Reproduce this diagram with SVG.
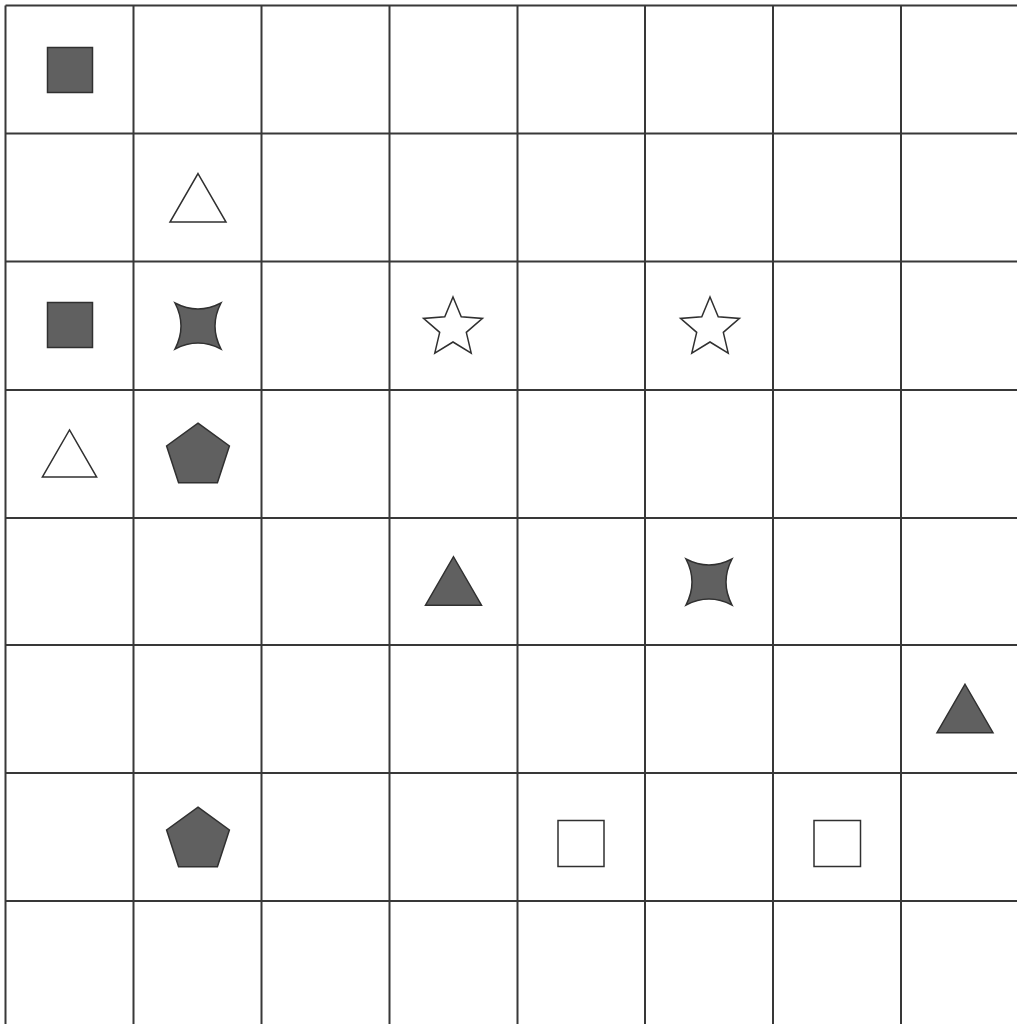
<svg xmlns="http://www.w3.org/2000/svg" xmlns:xlink="http://www.w3.org/1999/xlink" width="1017" height="1024" viewBox="0 0 1017 1024">
<style>
.grid line{stroke:#383838;stroke-width:2}
.f{fill:#606060;stroke:#303030;stroke-width:1.5;stroke-linejoin:miter}
.h{fill:#ffffff;stroke:#303030;stroke-width:1.5}
</style>
<defs>
<polygon id="tri" points="0,-24.25 28,24.25 -28,24.25"/>
<polygon id="pent" points="0,-29.85 31.4,-7.05 19.4,29.85 -19.4,29.85 -31.4,-7.05"/>
<polygon id="star" points="0,-28 8.23,-8.33 29.48,-6.58 13.31,7.33 18.22,28.08 0,17 -18.22,28.08 -13.31,7.33 -29.48,-6.58 -8.23,-8.33"/>
<path id="star4" d="M-23,-23 Q0,-11 23,-23 Q11,0 23,23 Q0,11 -23,23 Q-11,0 -23,-23 Z"/>
</defs>
<rect width="1017" height="1024" fill="#ffffff"/>
<g class="grid">
<line x1="5.5" y1="5.5" x2="5.5" y2="1024"/>
<line x1="133.5" y1="5.5" x2="133.5" y2="1024"/>
<line x1="261.5" y1="5.5" x2="261.5" y2="1024"/>
<line x1="389.5" y1="5.5" x2="389.5" y2="1024"/>
<line x1="517.5" y1="5.5" x2="517.5" y2="1024"/>
<line x1="645" y1="5.5" x2="645" y2="1024"/>
<line x1="773" y1="5.5" x2="773" y2="1024"/>
<line x1="901" y1="5.5" x2="901" y2="1024"/>
<line x1="5.5" y1="5.5" x2="1017" y2="5.5"/>
<line x1="5.5" y1="133.5" x2="1017" y2="133.5"/>
<line x1="5.5" y1="261.5" x2="1017" y2="261.5"/>
<line x1="5.5" y1="390" x2="1017" y2="390"/>
<line x1="5.5" y1="518" x2="1017" y2="518"/>
<line x1="5.5" y1="645" x2="1017" y2="645"/>
<line x1="5.5" y1="773" x2="1017" y2="773"/>
<line x1="5.5" y1="901" x2="1017" y2="901"/>
</g>
<g id="sq-0-0"><rect class="f" x="47.5" y="47.5" width="45" height="45"/></g>
<g id="tri-1-1"><use class="h" href="#tri" xlink:href="#tri" transform="translate(198,197.8)"/></g>
<g id="sq-0-2"><rect class="f" x="47.5" y="302.5" width="45" height="45"/></g>
<g id="star4-1-2"><use class="f" href="#star4" xlink:href="#star4" transform="translate(198,326)"/></g>
<g id="star-3-2"><use class="h" href="#star" xlink:href="#star" transform="translate(453,325)"/></g>
<g id="star-5-2"><use class="h" href="#star" xlink:href="#star" transform="translate(710,325)"/></g>
<g id="tri-0-3"><use class="h" href="#tri" xlink:href="#tri" transform="translate(69.5,453.5) scale(0.97,0.97)"/></g>
<g id="pent-1-3"><use class="f" href="#pent" xlink:href="#pent" transform="translate(198,453)"/></g>
<g id="tri-3-4"><use class="f" href="#tri" xlink:href="#tri" transform="translate(453.5,581)"/></g>
<g id="star4-5-4"><use class="f" href="#star4" xlink:href="#star4" transform="translate(709,582)"/></g>
<g id="tri-7-5"><use class="f" href="#tri" xlink:href="#tri" transform="translate(965,708.5)"/></g>
<g id="pent-1-6"><use class="f" href="#pent" xlink:href="#pent" transform="translate(198,837)"/></g>
<g id="sq-4-6"><rect class="h" x="558" y="820.5" width="46" height="46"/></g>
<g id="sq-6-6"><rect class="h" x="814" y="820.5" width="46.5" height="46"/></g>
</svg>
